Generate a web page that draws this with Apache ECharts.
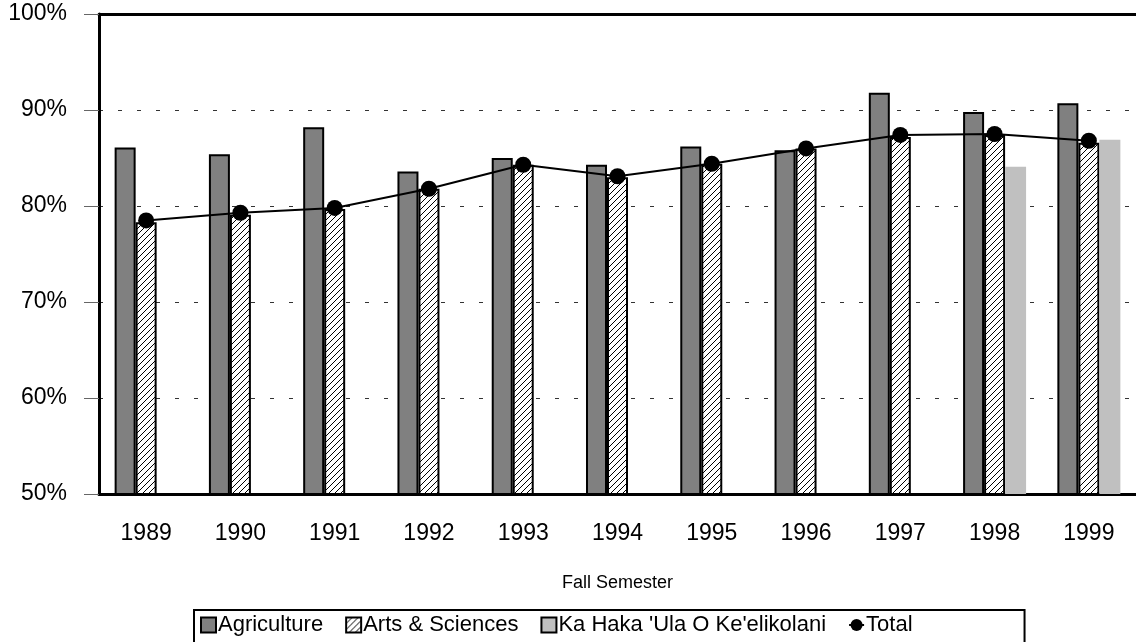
<!DOCTYPE html>
<html>
<head>
<meta charset="utf-8">
<script src="https://cdn.jsdelivr.net/npm/echarts@6/dist/echarts.min.js"></script>
<style>
  html, body { margin: 0; padding: 0; background: #fff; }
  #chart { width: 1136px; height: 642px; }
</style>
</head>
<body>
<div id="chart"></div>
<script>
var years = ['1989', '1990', '1991', '1992', '1993', '1994', '1995', '1996', '1997', '1998', '1999'];
var agriculture = [86.1, 85.4, 88.2, 83.6, 85.0, 84.3, 86.2, 85.8, 91.8, 89.8, 90.7];
var artsSciences = [78.3, 79.1, 79.7, 81.8, 84.3, 83.0, 84.4, 86.0, 87.2, 87.4, 86.6];
var kaHaka = [null, null, null, null, null, null, null, null, null, 84.1, 86.9];
var total = [78.5, 79.3, 79.8, 81.8, 84.3, 83.1, 84.4, 86.0, 87.4, 87.5, 86.8];

// diagonal hatch for Arts & Sciences
function makeHatch() {
  var c = document.createElement('canvas');
  c.width = 6;
  c.height = 6;
  var ctx = c.getContext('2d');
  ctx.fillStyle = '#fff';
  ctx.fillRect(0, 0, 6, 6);
  ctx.strokeStyle = '#000';
  ctx.lineWidth = 1;
  ctx.beginPath();
  ctx.moveTo(-1, 7); ctx.lineTo(7, -1);
  ctx.moveTo(-4, 4); ctx.lineTo(4, -4);
  ctx.moveTo(2, 10); ctx.lineTo(10, 2);
  ctx.stroke();
  return c;
}
var hatch = { image: makeHatch(), repeat: 'repeat' };

var font = 'Arial, "Liberation Sans", sans-serif';
var chart = echarts.init(document.getElementById('chart'));
var option = {
  animation: false,
  textStyle: { fontFamily: font },
  grid: { left: 99, top: 14, right: -3, bottom: 148 },
  legend: {
    top: 610,
    left: 194,
    padding: [4, 112, 12, 6],
    borderColor: '#000',
    borderWidth: 2,
    itemGap: 22,
    itemWidth: 15,
    itemHeight: 15,
    textStyle: { fontSize: 22, color: '#000', fontFamily: font, padding: [0, 0, 0, -3] },
    data: [
      { name: 'Agriculture', icon: 'rect', itemStyle: { borderColor: '#000', borderWidth: 2 } },
      { name: 'Arts & Sciences', icon: 'rect', itemStyle: { borderColor: '#000', borderWidth: 2 } },
      { name: "Ka Haka 'Ula O Ke'elikolani", icon: 'rect', itemStyle: { borderColor: '#000', borderWidth: 2 } },
      { name: 'Total' }
    ]
  },
  xAxis: [{
    type: 'category',
    data: years,
    name: 'Fall Semester',
    nameLocation: 'middle',
    nameGap: 80,
    nameTextStyle: { fontSize: 18, color: '#000' },
    axisLine: { lineStyle: { color: '#000', width: 3 } },
    axisTick: { alignWithLabel: true, length: 15, lineStyle: { color: '#666', width: 1 } },
    axisLabel: { fontSize: 23, color: '#000', margin: 28 }
  }, {
    type: 'category',
    data: years,
    position: 'top',
    axisLine: { lineStyle: { color: '#000', width: 3 } },
    axisTick: { show: false },
    axisLabel: { show: false }
  }],
  yAxis: {
    type: 'value',
    min: 50,
    max: 100,
    interval: 10,
    axisLine: { show: true, lineStyle: { color: '#000', width: 3 } },
    axisTick: { show: true, length: 15, lineStyle: { color: '#666', width: 1 } },
    axisLabel: { fontSize: 23, color: '#000', margin: 32, formatter: '{value}%' },
    splitLine: { lineStyle: { color: '#333', width: 1, type: [4, 15] } }
  },
  series: [{
    name: 'Agriculture',
    type: 'bar',
    data: agriculture,
    barWidth: 21,
    barGap: '0%',
    itemStyle: { color: '#808080', borderColor: '#000', borderWidth: 2 }
  }, {
    name: 'Arts & Sciences',
    type: 'bar',
    data: artsSciences,
    barWidth: 21,
    barGap: '0%',
    itemStyle: { color: hatch, borderColor: '#000', borderWidth: 2 }
  }, {
    name: "Ka Haka 'Ula O Ke'elikolani",
    type: 'bar',
    data: kaHaka,
    barWidth: 21,
    barGap: '0%',
    itemStyle: { color: '#c0c0c0' }
  }, {
    name: 'Total',
    type: 'line',
    data: total,
    z: 5,
    symbol: 'circle',
    symbolSize: 16,
    itemStyle: { color: '#000' },
    lineStyle: { color: '#000', width: 2 }
  }]
};
chart.setOption(option);
</script>
</body>
</html>
